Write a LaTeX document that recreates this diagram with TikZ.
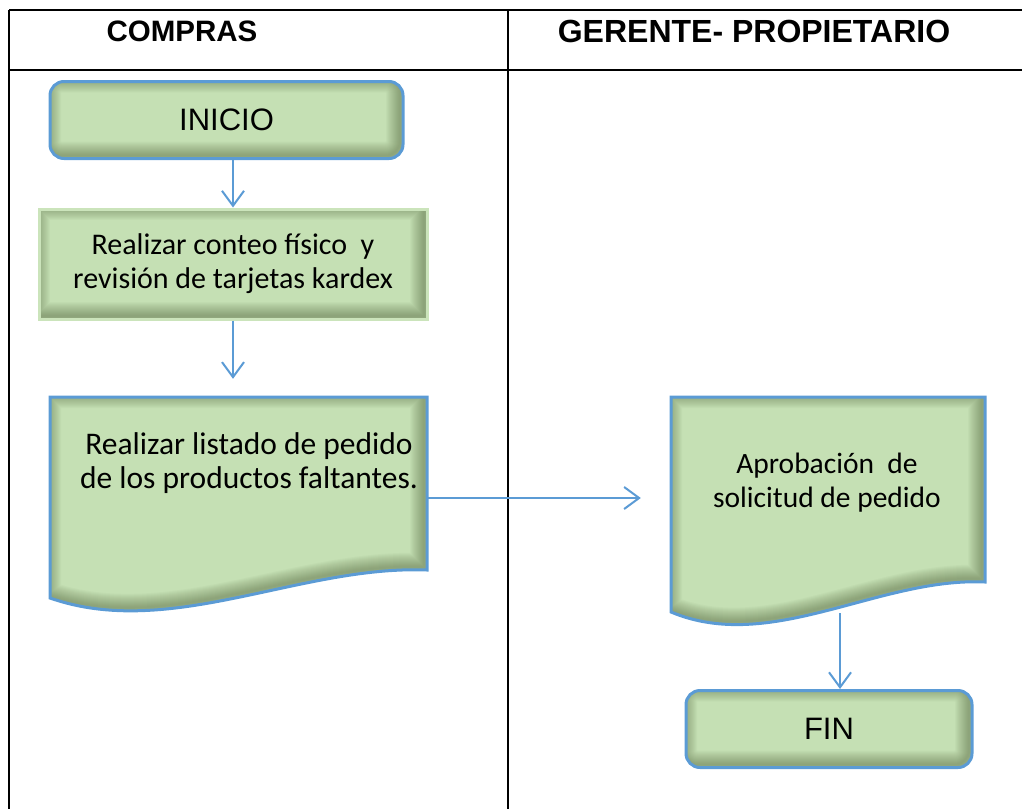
\documentclass[tikz,border=0pt]{standalone}
\usepackage{fontspec}
\setmainfont{Carlito}
\newfontfamily\arialf{Liberation Sans}
\usetikzlibrary{arrows.meta}
\definecolor{boxgreen}{HTML}{C5E0B4}
\definecolor{shadegreen}{HTML}{3A4A22}
\definecolor{edgeblue}{HTML}{5B9BD5}
\definecolor{edgegreen}{HTML}{CBE4BB}

\begin{document}
\begin{tikzpicture}[x=1pt,y=-1pt]
		\tikzset{
			shadow/.style={
				path picture={
					\foreach \w in {2,4,...,28}
					\draw[draw=shadegreen, line width=\w pt, opacity=0.03, rounded corners=#1]
					([xshift=-3pt,yshift=3pt]path picture bounding box.south west) rectangle
					([xshift=-3pt,yshift=3pt]path picture bounding box.north east);
				}
			},
			endbox/.style ={
				rectangle, %圆角矩形
				rounded corners=14pt,
				minimum width=#1,
				minimum height=77pt,
				draw=edgeblue, %边框颜色
				line width=3pt,
				fill=boxgreen,
				shadow=14pt,
				font=\arialf\fontsize{31}{34}\selectfont
			},
			stepbox/.style ={
				rectangle,
				minimum width=388pt,
				minimum height=110pt,
				draw=edgegreen,
				line width=3pt,
				fill=boxgreen,
				shadow=0pt,
				align=center,
				font=\fontsize{30}{34}\selectfont
			},
			docbox/.style ={
				rectangle, %只作锚点
				inner sep=0pt,
				draw=none
			},
			doctext/.style={align=center, font=\fontsize{#1}{34}\selectfont},
			head/.style={font=\arialf\bfseries\fontsize{#1}{34}\selectfont},
			tab/.style={line width=2.8pt},
			arr/.style={draw=edgeblue, line width=2pt, -{Straight Barb[length=15pt,width=22pt]}},
			lstpath/.style={insert path={(50,397) -- (427,397) -- (427,570)
				.. controls (300,565) and (170,640) .. (50,598) -- cycle}},
			aprpath/.style={insert path={(671,397) -- (985,397) -- (985,582)
				.. controls (879,577) and (771,654) .. (671,612) -- cycle}}
		}
		\useasboundingbox (0,0) rectangle (1022,809);
		% tabla
		\draw[tab] (9,10) -- (1022,10);
		\draw[tab] (9,70) -- (1022,70);
		\draw[tab] (9,10) -- (9,809);
		\draw[tab] (508,10) -- (508,809);
		\node[head=29.5] (h1) at (182,31) {COMPRAS};
		\node[head=32] (h2) at (754,31) {GERENTE- PROPIETARIO};
		% documentos
		\foreach \p in {lstpath,aprpath}{
			\fill[boxgreen, \p];
			\begin{scope}
				\clip[\p];
				\foreach \w in {2,4,...,28}
				\draw[shadegreen, line width=\w pt, opacity=0.03, xshift=-3pt, yshift=3pt, \p];
			\end{scope}
			\draw[edgeblue, line width=3pt, \p];
		}
		\node[endbox=353pt] (ini) at (226.5,120) {INICIO};
		\node[stepbox] (cnt) at (233,264) {Realizar conteo físico~ y\\revisión de tarjetas kardex};
		\node[docbox, minimum width=377pt, minimum height=202pt] (lst) at (238.5,498) {};
		\node[doctext=31.5] (lstt) at (249,463) {Realizar listado de pedido\\de los productos faltantes.};
		\node[docbox, minimum width=314pt, minimum height=216pt] (apr) at (828,505) {};
		\node[doctext=29.5] (aprt) at (827,483) {Aprobación~ de\\solicitud de pedido};
		\node[endbox=286pt] (fin) at (829,729) {FIN};
		\draw[arr] (ini.south -| cnt.north) -- (cnt.north);
		\draw[arr, shorten >=18pt] (cnt.south) -- (cnt.south |- lst.north);
		\draw[arr, shorten >=30pt] (lst.east) -- (lst.east -| apr.west);
		\draw[arr] ([xshift=12pt]apr.south) -- ([xshift=12pt]apr.south |- fin.north);
	\end{tikzpicture}
\end{document}
